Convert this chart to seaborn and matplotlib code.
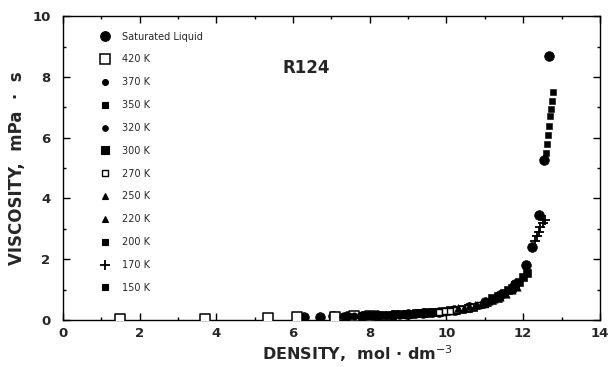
import matplotlib
matplotlib.use("Agg")
import matplotlib.pyplot as plt
import seaborn as sns
import pandas as pd
from matplotlib.lines import Line2D

sns.set_theme(style="white")
plt.rcParams['font.family'] = ['DejaVu Sans']

# ---- data (density mol/dm3, viscosity mPa s) ----
sat_rho = [6.28, 6.70, 7.05, 7.40, 7.80, 8.20, 8.60, 9.00, 9.40, 9.80, 10.20, 10.60,
           11.00, 11.40, 11.80, 12.08, 12.24, 12.42, 12.55, 12.68]
sat_eta = [0.10, 0.11, 0.12, 0.13, 0.14, 0.16, 0.18, 0.20, 0.23, 0.27, 0.32, 0.42,
           0.58, 0.82, 1.20, 1.80, 2.40, 3.47, 5.26, 8.68]

t420_rho = [1.50, 3.70, 5.35, 6.10, 7.10, 7.60, 8.00]
t420_eta = [0.04, 0.05, 0.06, 0.09, 0.11, 0.13, 0.14]

t370_rho = [7.30, 7.45, 7.60, 7.75, 7.90, 8.05, 8.20, 8.35, 8.50, 8.65, 8.80, 8.95, 9.10]
t370_eta = [0.12, 0.12, 0.13, 0.13, 0.14, 0.14, 0.15, 0.15, 0.16, 0.17, 0.17, 0.18, 0.19]

t350_rho = [7.90, 8.05, 8.20, 8.35, 8.50, 8.65, 8.80, 8.95, 9.10, 9.25, 9.40, 9.55, 9.70]
t350_eta = [0.16, 0.17, 0.17, 0.18, 0.18, 0.19, 0.20, 0.21, 0.21, 0.22, 0.23, 0.24, 0.25]

t320_rho = [8.60, 8.75, 8.90, 9.05, 9.20, 9.35, 9.50, 9.65, 9.80, 9.95, 10.10, 10.25]
t320_eta = [0.17, 0.18, 0.19, 0.20, 0.21, 0.22, 0.23, 0.24, 0.26, 0.27, 0.29, 0.31]

t300_rho = [9.20, 9.35, 9.50, 9.65, 9.80, 9.95, 10.10, 10.25, 10.40, 10.55, 10.70]
t300_eta = [0.23, 0.24, 0.25, 0.26, 0.28, 0.30, 0.32, 0.34, 0.37, 0.40, 0.43]

t270_rho = [9.80, 9.95, 10.10, 10.25, 10.40, 10.55, 10.70, 10.85, 11.00]
t270_eta = [0.27, 0.29, 0.31, 0.33, 0.36, 0.40, 0.44, 0.48, 0.53]

t250_rho = [10.30, 10.45, 10.60, 10.75, 10.90, 11.05, 11.20, 11.35]
t250_eta = [0.38, 0.41, 0.45, 0.49, 0.54, 0.60, 0.67, 0.74]

t220_rho = [10.80, 10.95, 11.10, 11.25, 11.40, 11.55, 11.70, 11.85]
t220_eta = [0.50, 0.55, 0.61, 0.68, 0.76, 0.86, 0.98, 1.10]

t200_rho = [11.20, 11.35, 11.50, 11.60, 11.70, 11.80, 11.90, 12.00, 12.10]
t200_eta = [0.72, 0.80, 0.90, 0.98, 1.06, 1.15, 1.26, 1.40, 1.56]

t170_rho = [12.30, 12.35, 12.40, 12.45, 12.52, 12.58]
t170_eta = [2.60, 2.75, 2.90, 3.05, 3.20, 3.30]

t150_rho = [12.60, 12.63, 12.66, 12.68, 12.70, 12.72, 12.75, 12.78]
t150_eta = [5.50, 5.80, 6.10, 6.40, 6.70, 6.95, 7.20, 7.50]

labels = ["Saturated Liquid", "420 K", "370 K", "350 K", "320 K", "300 K",
          "270 K", "250 K", "220 K", "200 K", "170 K", "150 K"]

series = [
    (sat_rho, sat_eta, dict(marker="o", s=48, facecolor="black", edgecolor="black")),
    (t420_rho, t420_eta, dict(marker="s", s=42, facecolor="white", edgecolor="black", linewidth=1.1)),
    (t370_rho, t370_eta, dict(marker="o", s=28, facecolor="black", edgecolor="black")),
    (t350_rho, t350_eta, dict(marker="s", s=26, facecolor="black", edgecolor="black")),
    (t320_rho, t320_eta, dict(marker="o", s=28, facecolor="black", edgecolor="black")),
    (t300_rho, t300_eta, dict(marker="s", s=36, facecolor="black", edgecolor="black")),
    (t270_rho, t270_eta, dict(marker="s", s=24, facecolor="white", edgecolor="black", linewidth=1.0)),
    (t250_rho, t250_eta, dict(marker="^", s=32, facecolor="black", edgecolor="black")),
    (t220_rho, t220_eta, dict(marker="^", s=28, facecolor="black", edgecolor="black")),
    (t200_rho, t200_eta, dict(marker="s", s=30, facecolor="black", edgecolor="black")),
    (t170_rho, t170_eta, dict(marker="+", s=45, color="black", linewidth=1.3)),
    (t150_rho, t150_eta, dict(marker="s", s=24, facecolor="black", edgecolor="black")),
]
legend_sizes = [48, 42, 18, 16, 16, 38, 16, 22, 18, 18, 45, 20]

fig = plt.figure(figsize=(6.09, 3.67), dpi=100)
ax = fig.add_axes([0.1034, 0.128, 0.8816, 0.828])

handles = []
for (x, y, kw), lab, ls in zip(series, labels, legend_sizes):
    df = pd.DataFrame({"rho": x, "eta": y})
    sns.scatterplot(data=df, x="rho", y="eta", ax=ax, legend=False, zorder=3, **kw)
    mk = kw["marker"]
    ms = ls ** 0.5
    if mk == "+":
        h = Line2D([], [], linestyle="none", marker="+", markersize=ms, color="black", markeredgewidth=1.3)
    else:
        h = Line2D([], [], linestyle="none", marker=mk, markersize=ms,
                   markerfacecolor=kw["facecolor"], markeredgecolor="black",
                   markeredgewidth=kw.get("linewidth", 0.8))
    handles.append(h)

ax.set_xlim(0, 14)
ax.set_ylim(0, 10)
ax.set_xticks([0, 2, 4, 6, 8, 10, 12, 14])
ax.set_yticks([0, 2, 4, 6, 8, 10])
ax.set_xticks(range(0, 15), minor=True)
ax.set_yticks(range(0, 11), minor=True)
ax.tick_params(which="both", direction="in", top=True, right=True, bottom=True, left=True,
               color="black", width=1.0)
ax.tick_params(which="major", length=5, labelsize=9.5)
ax.tick_params(axis="x", which="major", pad=5)
ax.tick_params(axis="y", which="major", pad=9)
ax.tick_params(which="minor", length=2.5)
for lab in ax.get_xticklabels() + ax.get_yticklabels():
    lab.set_fontweight("bold")
for sp in ax.spines.values():
    sp.set_color("black")
    sp.set_linewidth(1.0)

ax.set_xlabel("DENSITY,  mol \u00b7 dm$^{-3}$", fontsize=11.5, fontweight="bold")
ax.set_ylabel("VISCOSITY,  mPa  \u00b7  s", fontsize=12, fontweight="bold")
ax.xaxis.set_label_coords(0.549, -0.076)
ax.yaxis.set_label_coords(-0.069, 0.5)

fig.text(282 / 609, 1 - 68 / 367, "R124", fontsize=12, fontweight="bold", va="center", ha="left")

leg = ax.legend(handles, labels, loc="upper left", bbox_to_anchor=(0.062, 0.962),
                frameon=False, fontsize=7, labelspacing=1.32, handletextpad=1.27,
                handlelength=1.0, borderaxespad=0)

fig.savefig("out.png", dpi=100)
